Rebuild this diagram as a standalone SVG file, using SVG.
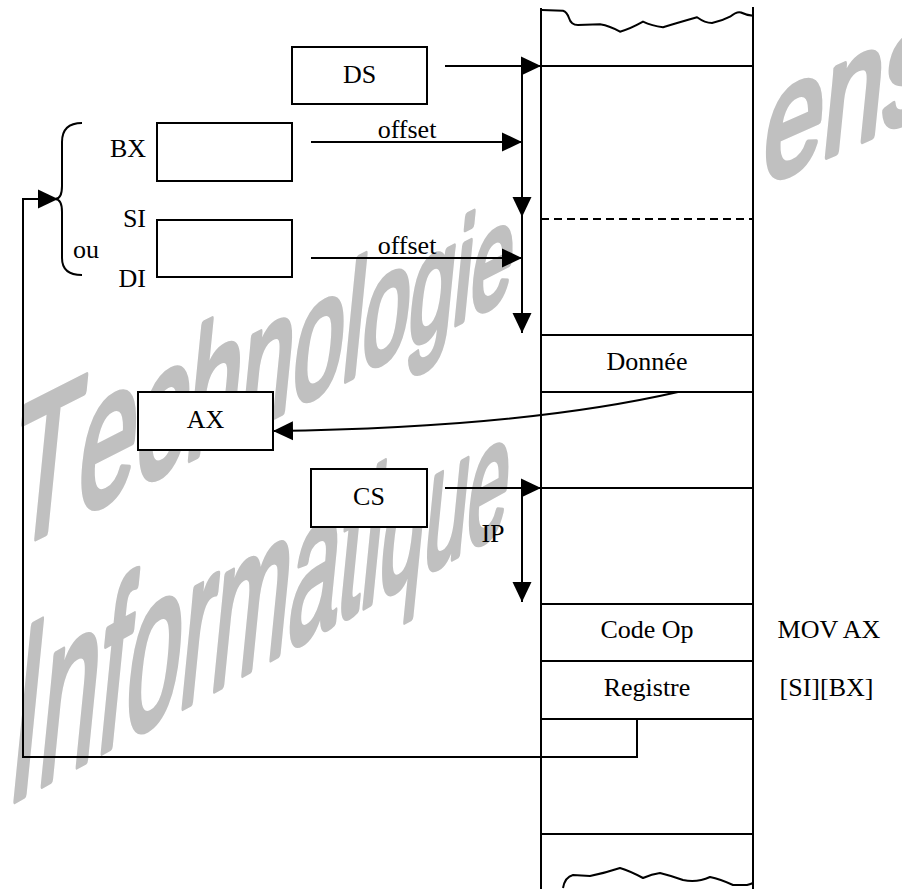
<svg xmlns="http://www.w3.org/2000/svg" width="902" height="889" viewBox="0 0 902 889">
<style>
.ln{stroke:#000;stroke-width:2;fill:none}
.dash{stroke:#000;stroke-width:2;fill:none;stroke-dasharray:8 5}
.box{fill:#fff;stroke:#000;stroke-width:2}
.t{font-family:"Liberation Serif","Times New Roman",serif;font-size:26px;fill:#000}
.m{text-anchor:middle}
.e{text-anchor:end}
.wm{font-family:"Liberation Sans",Arial,sans-serif;fill:#c0c0c0;stroke:#c0c0c0;stroke-width:7;stroke-linejoin:round}
</style>
<defs>
<marker id="ah" viewBox="0 0 20 20" refX="20" refY="10" markerWidth="20" markerHeight="20" markerUnits="userSpaceOnUse" orient="auto">
<path d="M0,0.5 L20,10 L0,19.5 z" fill="#000"/>
</marker>
</defs>
<rect width="902" height="889" fill="#fff"/>

<g id="watermark">
<text class="wm" transform="translate(8,552) skewY(-27) skewX(-6) scale(0.55,1)"><tspan font-size="198">T</tspan><tspan font-size="190">e</tspan><tspan font-size="183">c</tspan><tspan font-size="177">h</tspan><tspan font-size="171">n</tspan><tspan font-size="165">o</tspan><tspan font-size="159">l</tspan><tspan font-size="153">o</tspan><tspan font-size="147">g</tspan><tspan font-size="141">i</tspan><tspan font-size="135">e</tspan></text>
<text class="wm" transform="translate(5,806) skewY(-29) skewX(-6) scale(0.45,1)"><tspan font-size="240">I</tspan><tspan font-size="233">n</tspan><tspan font-size="226">f</tspan><tspan font-size="219">o</tspan><tspan font-size="212">r</tspan><tspan font-size="205">m</tspan><tspan font-size="198">a</tspan><tspan font-size="191">t</tspan><tspan font-size="184">i</tspan><tspan font-size="177">q</tspan><tspan font-size="170">u</tspan><tspan font-size="163">e</tspan></text>
<text class="wm" transform="translate(760,186) skewY(-24) skewX(-6) scale(0.68,1)" font-size="158">ens</text>
</g>

<g id="memory">
<rect x="541" y="0" width="212" height="889" fill="#fff"/>
<path class="ln" d="M541,8 L541,889 M753,7 L753,889"/>
<path class="ln" d="M541.7,10 L563,10.7 Q567,12 569,18 Q571,25 578,25 L600,24.3 Q610,26 620,31.7 Q630,29 643,21.7 Q652,26 663,27.3 Q677,23 697,17.3 Q705,23 712,23 Q722,21 730,16.7 Q737,11 741,12.5 Q746,15 753,15.7"/>
<path class="ln" d="M563,888 Q565,877 573,875 L590,876 Q605,873 620,868 Q630,871 643,878 Q652,874 660,873 Q672,876 683,880 Q697,883 710,877 Q720,879 733,885 L747,885 Q751,884 753,883"/>
<path class="ln" d="M541,66 H753 M541,335 H753 M541,392 H753 M541,488 H753 M541,604 H753 M541,661 H753 M541,719 H753 M541,834 H753"/>
<path class="dash" d="M541,219 H753"/>
<text class="t m" x="647" y="370">Donnée</text>
<text class="t m" x="647" y="638">Code Op</text>
<text class="t m" x="647" y="696">Registre</text>
</g>

<g id="annotations">
<text class="t m" x="829" y="638">MOV AX</text>
<text class="t m" x="826.5" y="696">[SI][BX]</text>
</g>

<g id="DS">
<rect class="box" x="292" y="47" width="135" height="57"/>
<text class="t m" x="359.5" y="83">DS</text>
</g>
<g id="BX">
<rect class="box" x="157" y="123" width="135" height="58"/>
<text class="t e" x="146" y="157">BX</text>
</g>
<g id="SIDI">
<rect class="box" x="157" y="220" width="135" height="57"/>
<text class="t e" x="146" y="227">SI</text>
<text class="t e" x="146" y="287">DI</text>
<text class="t" x="73" y="258">ou</text>
</g>
<g id="brace">
<path class="ln" d="M82,123 Q62,123 62,142 L62,186 Q62,199 55,199 Q62,199 62,212 L62,258 Q62,275 82,275"/>
</g>
<g id="AX">
<rect class="box" x="138" y="392" width="135" height="58"/>
<text class="t m" x="205.5" y="428">AX</text>
</g>
<g id="CS">
<rect class="box" x="311" y="469" width="116" height="58"/>
<text class="t m" x="369" y="505">CS</text>
</g>

<g id="connectors">
<path class="ln" d="M445,66 H541" marker-end="url(#ah)"/>
<path class="ln" d="M522,66 V217" marker-end="url(#ah)"/>
<path class="ln" d="M522,217 V333" marker-end="url(#ah)"/>
<path class="ln" d="M311,142 H522" marker-end="url(#ah)"/>
<path class="ln" d="M311,258 H522" marker-end="url(#ah)"/>
<path class="ln" d="M678,392 Q520,428 273,431" marker-end="url(#ah)"/>
<path class="ln" d="M445,488 H541" marker-end="url(#ah)"/>
<path class="ln" d="M522,488 V602" marker-end="url(#ah)"/>
<path class="ln" d="M637,719 V757 H23 V199 H58" marker-end="url(#ah)"/>
<text class="t m" x="407" y="138">offset</text>
<text class="t m" x="407" y="254">offset</text>
<text class="t m" x="493" y="542">IP</text>
</g>
</svg>
